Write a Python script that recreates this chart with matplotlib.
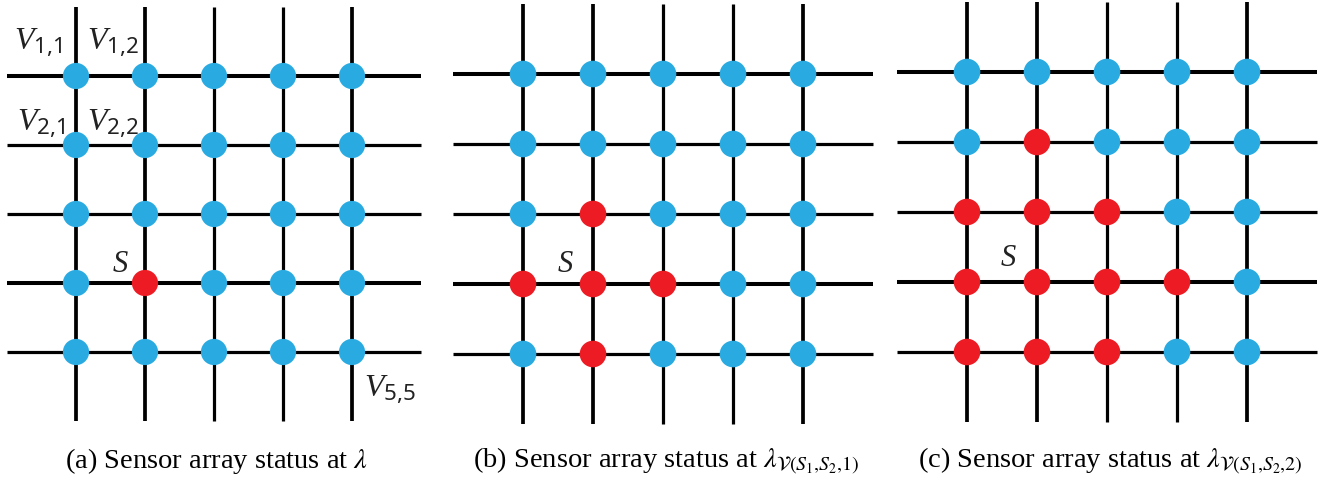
import matplotlib

matplotlib.use("Agg")
import matplotlib.pyplot as plt
from matplotlib.patches import Circle

# grid is 5x5 sensors, rows/cols counted from 1 (top-left)
N_ROWS = 5
N_COLS = 5

# active (red) sensors for each stage, as (row, col)
active_a = [(4, 2)]
active_b = [(3, 2), (4, 1), (4, 2), (4, 3), (5, 2)]
active_c = [
    (2, 2),
    (3, 1), (3, 2), (3, 3),
    (4, 1), (4, 2), (4, 3), (4, 4),
    (5, 1), (5, 2), (5, 3),
]

captions = [
    r"(a) Sensor array status at $\lambda$",
    r"(b) Sensor array status at $\lambda_{\mathcal{V}(S_1{,}S_2{,}1)}$",
    r"(c) Sensor array status at $\lambda_{\mathcal{V}(S_1{,}S_2{,}2)}$",
]

# node labels in panel (a): (text, row, col)
node_labels = [
    (r"$V_{1{,}1}$", 1, 1),
    (r"$V_{1{,}2}$", 1, 2),
    (r"$V_{2{,}1}$", 2, 1),
    (r"$V_{2{,}2}$", 2, 2),
    (r"$V_{5{,}5}$", 5, 5),
]

BLUE = "#29abe2"
RED = "#ed1c24"

plt.rcParams["mathtext.fontset"] = "custom"
plt.rcParams["mathtext.it"] = "Liberation Serif:italic"
plt.rcParams["mathtext.rm"] = "Noto Sans"

W, H = 1327, 481
fig = plt.figure(figsize=(W / 100, H / 100), dpi=100)

# pixel boxes (left, top, right, bottom) of the line extents of each panel
boxes = [
    (7, 8, 421, 422),
    (453, 5, 873, 425),
    (897, 3, 1317, 423),
]
panels = [active_a, active_b, active_c]
s_offsets = [(-0.36, -0.29), (-0.39, -0.30), (-0.41, -0.36)]


def draw_panel(ax, active, s_off):
    ax.set_xlim(0, N_COLS + 1)
    ax.set_ylim(N_ROWS + 1, 0)
    ax.axis("off")
    for r in range(1, N_ROWS + 1):
        lw = 2.9 if r in (1, 4) else 2.3
        ax.plot([0, N_COLS + 1], [r, r], color="black", lw=lw,
                solid_capstyle="butt", clip_on=False, zorder=1)
    for c in range(1, N_COLS + 1):
        lw = 2.7 if c in (1, 2, 5) else 2.3
        ax.plot([c, c], [0, N_ROWS + 1], color="black", lw=lw,
                solid_capstyle="butt", clip_on=False, zorder=1)
    for r in range(1, N_ROWS + 1):
        for c in range(1, N_COLS + 1):
            color = RED if (r, c) in active else BLUE
            ax.add_patch(Circle((c, r), 0.19, color=color, lw=0, zorder=2))
    ax.text(2 + s_off[0], 4 + s_off[1], r"$S$", fontsize=22,
            ha="center", va="center", color="#222222", zorder=3)


for box, active, s_off in zip(boxes, panels, s_offsets):
    left, top, right, bottom = box
    ax = fig.add_axes([left / W, 1 - bottom / H, (right - left) / W,
                       (bottom - top) / H])
    draw_panel(ax, active, s_off)
    if active is active_a:
        label_ax = ax

label_pos = {
    (1, 1): (0.45, 0.50),
    (1, 2): (1.54, 0.50),
    (2, 1): (0.50, 1.67),
    (2, 2): (1.54, 1.67),
    (5, 5): (5.55, 5.53),
}
for text, r, c in node_labels:
    x, y = label_pos[(r, c)]
    label_ax.text(x, y, text, fontsize=23, ha="center", va="center",
                  color="#222222", zorder=3)

caption_x = [217, 666, 1110]
for x, cap in zip(caption_x, captions):
    fig.text(x / W, 1 - 461 / H, cap, fontsize=20.5, ha="center",
             va="center", family="Liberation Serif", math_fontfamily="stix")

fig.savefig("out.png", dpi=100)
